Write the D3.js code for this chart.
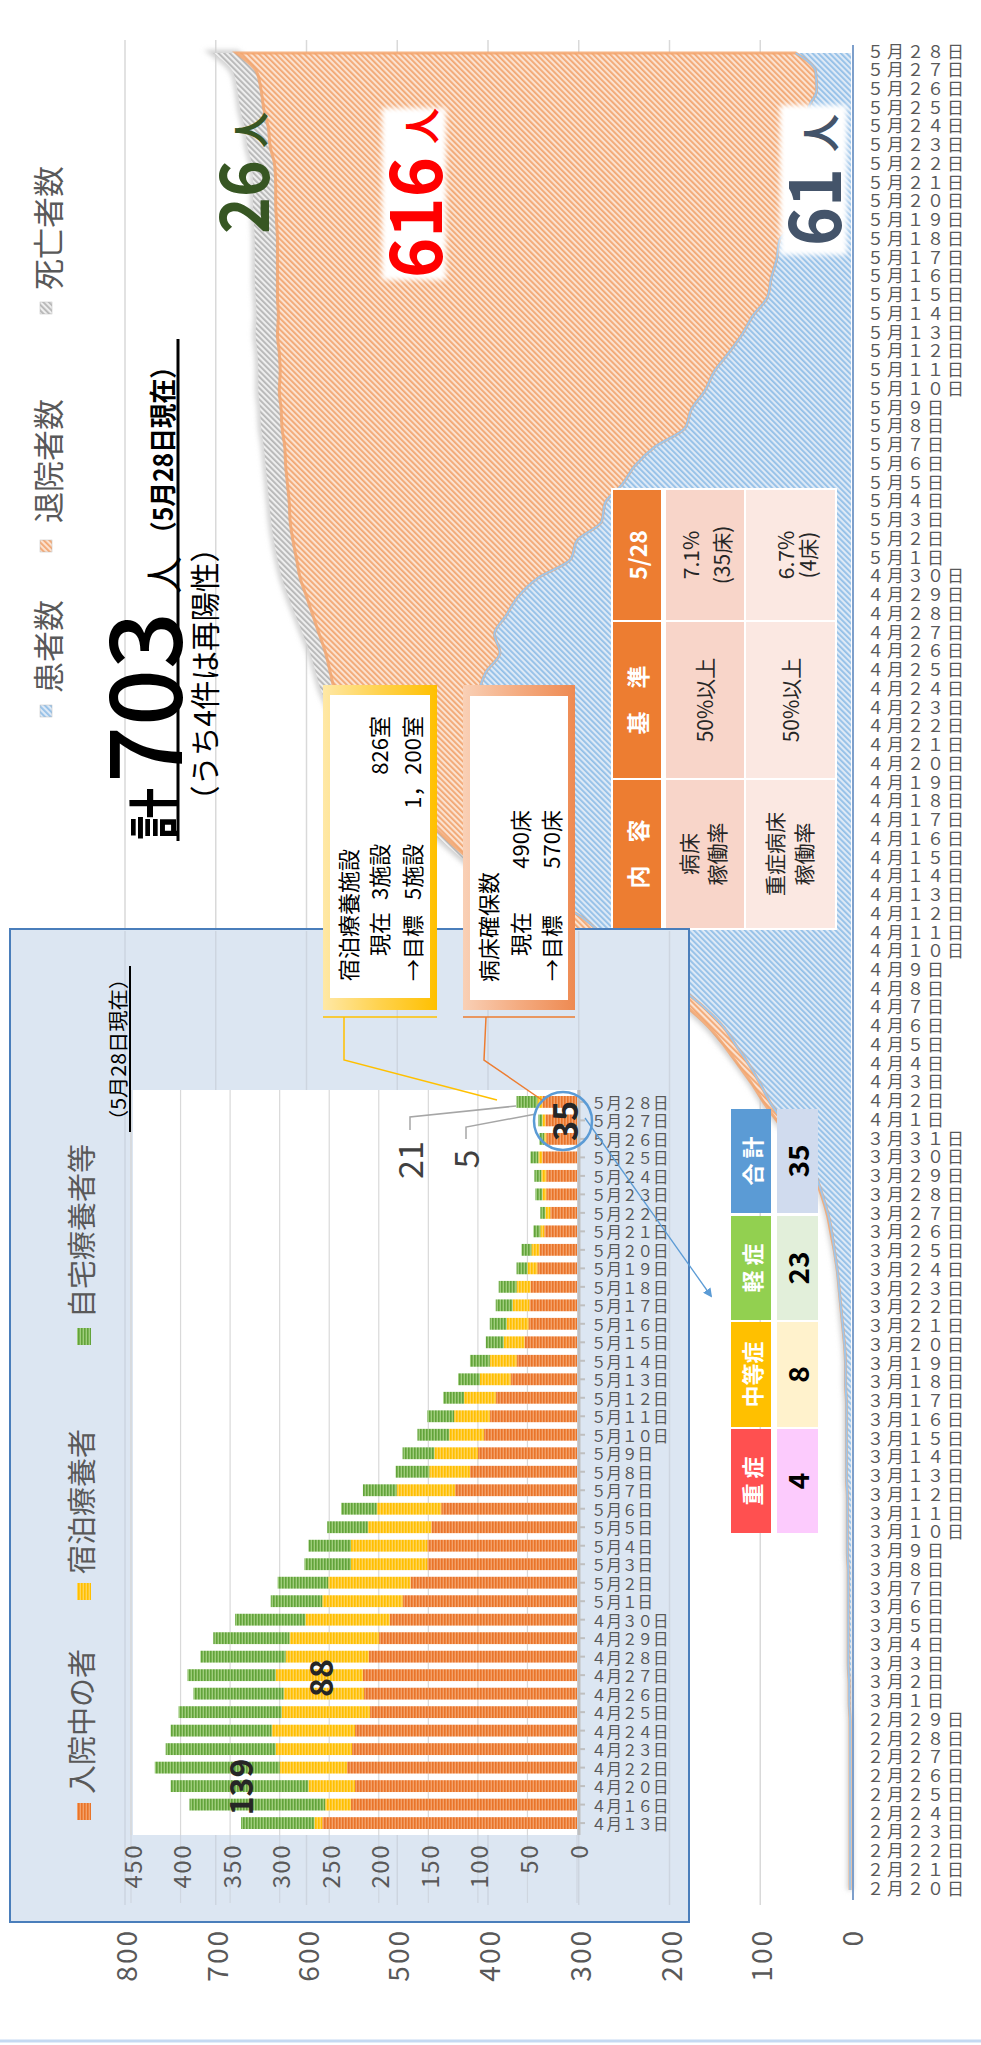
<!DOCTYPE html>
<html><head><meta charset="utf-8">
<script src="https://cdn.jsdelivr.net/npm/d3@7"></script>
<style>body{margin:0;background:#fff}svg{display:block}text{font-family:"Noto Sans CJK JP","Noto Sans",sans-serif}</style>
</head><body><svg id="c" width="981" height="2045"></svg>
<script>
// ---------------- DATA ----------------
const mainDates = ["2月20日","2月21日","2月22日","2月23日","2月24日","2月25日","2月26日","2月27日","2月28日","2月29日",
"3月1日","3月2日","3月3日","3月4日","3月5日","3月6日","3月7日","3月8日","3月9日","3月10日",
"3月11日","3月12日","3月13日","3月14日","3月15日","3月16日","3月17日","3月18日","3月19日","3月20日",
"3月21日","3月22日","3月23日","3月24日","3月25日","3月26日","3月27日","3月28日","3月29日","3月30日","3月31日",
"4月1日","4月2日","4月3日","4月4日","4月5日","4月6日","4月7日","4月8日","4月9日","4月10日",
"4月11日","4月12日","4月13日","4月14日","4月15日","4月16日","4月17日","4月18日","4月19日","4月20日",
"4月21日","4月22日","4月23日","4月24日","4月25日","4月26日","4月27日","4月28日","4月29日","4月30日",
"5月1日","5月2日","5月3日","5月4日","5月5日","5月6日","5月7日","5月8日","5月9日","5月10日",
"5月11日","5月12日","5月13日","5月14日","5月15日","5月16日","5月17日","5月18日","5月19日","5月20日",
"5月21日","5月22日","5月23日","5月24日","5月25日","5月26日","5月27日","5月28日"];
const patients = [1,1,1,1,1,1,1,1,1,1,
 2,2,3,3,3,3,3,3,4,4,
 4,4,5,5,5,5,5,6,6,7,
 9,11,13,15,18,21,25,31,38,47,60,
 75,89,100,112,126,140,160,185,213,245,
 274,300,339,360,378,391,398,404,407,410,
 418,426,415,410,402,387,393,380,367,345,
 309,302,275,271,252,238,216,183,176,161,
 151,135,120,108,92,88,82,79,61,56,
 44,37,42,43,47,38,39,61];
const discharged = [0,0,0,0,0,0,0,0,0,0,
 0,0,0,0,0,0,0,0,0,0,
 0,0,0,0,0,0,0,0,0,0,
 0,0,0,0,0,1,1,1,2,3,4,
 6,7,9,12,13,16,18,19,22,23,
 26,30,36,39,43,53,68,84,103,117,
 125,127,146,159,172,192,193,213,233,262,
 302,313,343,348,369,385,408,444,452,469,
 478,495,512,523,540,544,550,553,572,578,
 590,598,598,599,600,612,616,616];
const deaths = [0,0,0,0,0,0,0,0,0,0,
 0,0,0,0,0,0,0,0,0,0,
 0,0,0,0,0,0,0,0,0,0,
 0,0,0,0,0,0,0,0,0,0,0,
 1,1,1,1,2,2,2,3,3,4,
 4,4,5,6,7,8,9,10,10,11,
 12,13,14,15,16,17,18,19,20,20,
 21,21,21,22,22,22,23,23,23,23,
 24,24,24,24,24,25,25,25,25,25,
 25,25,25,26,26,26,26,26];
const mainTicks = [0,100,200,300,400,500,600,700,800];
const mainLegend = ["患者数","退院者数","死亡者数"];

const insetDates = ["4月13日","4月16日","4月20日","4月22日","4月23日","4月24日","4月25日","4月26日","4月27日","4月28日","4月29日","4月30日",
"5月1日","5月2日","5月3日","5月4日","5月5日","5月6日","5月7日","5月8日","5月9日","5月10日",
"5月11日","5月12日","5月13日","5月14日","5月15日","5月16日","5月17日","5月18日","5月19日","5月20日",
"5月21日","5月22日","5月23日","5月24日","5月25日","5月26日","5月27日","5月28日"];
const hospitalized = [257,228,224,232,227,224,209,215,216,210,200,189,
 176,168,151,151,147,137,123,108,100,94,
 88,82,67,61,53,49,48,47,40,38,
 33,27,31,31,35,31,32,35];
const hotel = [8,26,47,68,77,84,89,81,88,84,90,85,
 81,83,77,77,64,65,59,41,44,35,
 36,32,31,27,21,22,17,14,10,8,
 4,5,4,5,4,2,3,5];
const home = [74,137,139,126,111,102,104,91,89,86,77,71,
 52,51,47,43,41,36,34,34,32,32,
 27,21,22,20,18,17,17,18,11,10,
 7,5,7,7,8,5,4,21];
const insetTicks = [0,50,100,150,200,250,300,350,400,450];
const insetLegend = ["入院中の者","宿泊療養者","自宅療養者等"];

const sevLabels = ["合 計","軽 症","中等症","重 症"];
const sevValues = [35,23,8,4];
const bedCols = ["5/28","基　準","内　容"];
const bedRow1 = [["7.1%","(35床)"],["50%以上"],["病床","稼働率"]];
const bedRow2 = [["6.7%","(4床)"],["50%以上"],["重症病床","稼働率"]];

// ---------------- SETUP ----------------
const svg = d3.select('#c');
svg.append('rect').attr('width',981).attr('height',2045).attr('fill','#fff');
const defs = svg.append('defs');
function hatch(id,bg,fg,size,w,angle){
  const p=defs.append('pattern').attr('id',id).attr('patternUnits','userSpaceOnUse')
    .attr('width',size).attr('height',size).attr('patternTransform',`rotate(${angle})`);
  p.append('rect').attr('width',size).attr('height',size).attr('fill',bg);
  p.append('rect').attr('width',w).attr('height',size).attr('fill',fg);
}
hatch('hBlue','#dde9f6','#92bfe7',4,1.8,-45);
hatch('hOrange','#fbe2d0','#f2a672',4,1.8,-45);
hatch('hGray','#eeeeee','#b5b5b5',4,1.8,-45);
hatch('bOrange','#f3a16a','#e97429',3,1.6,0);
hatch('bYellow','#ffd45a','#ffbf00',3,1.6,0);
hatch('bGreen','#9fcd7c','#62a33a',3,1.6,0);
const blur=defs.append('filter').attr('id','blur').attr('x','-20%').attr('y','-20%').attr('width','140%').attr('height','140%');
blur.append('feGaussianBlur').attr('stdDeviation',2.5);
function grad(id,stops){
  const g=defs.append('linearGradient').attr('id',id).attr('x1',0).attr('x2',1).attr('y1',0).attr('y2',0);
  stops.forEach((c,i)=>g.append('stop').attr('offset',i/(stops.length-1)).attr('stop-color',c));
}
grad('gYel',['#ffe8a6','#ffd24d','#ffc000']);
grad('gOrg',['#f9d0b6','#f4ab80','#ee8a52']);
const mk=defs.append('marker').attr('id','arr').attr('viewBox','0 0 10 10').attr('refX',8).attr('refY',5)
  .attr('markerWidth',7).attr('markerHeight',7).attr('orient','auto-start-reverse');
mk.append('path').attr('d','M0,0L10,5L0,10z').attr('fill','#5b9bd5');

const fw = s => s.replace(/[0-9]/g, c => String.fromCharCode(c.charCodeAt(0)+0xFEE0));
function vt(g,x,y,s,o={}){
  const t=g.append('text').attr('transform',`translate(${x},${y}) rotate(-90)`)
    .attr('text-anchor',o.anchor||'start').attr('dominant-baseline','central')
    .attr('font-size',o.size||20).attr('fill',o.fill||'#000').attr('font-weight',o.weight||'normal').text(s);
  if(o.len) t.attr('textLength',o.len).attr('lengthAdjust','spacingAndGlyphs');
  if(o.ls) t.attr('letter-spacing',o.ls);
  return t;
}

// ---------------- MAIN CHART ----------------
const xV = d3.scaleLinear().domain([0,800]).range([851,125]);
const yD = d3.scalePoint().domain(mainDates).range([1890,53]);
const gMain = svg.append('g');
gMain.selectAll('line.grid').data(mainTicks.slice(1)).join('line')
  .attr('x1',d=>xV(d)).attr('x2',d=>xV(d)).attr('y1',40).attr('y2',1905)
  .attr('stroke','#d9d9d9').attr('stroke-width',1.5);

const rows = mainDates.map((d,i)=>({d,p:patients[i],r:discharged[i],k:deaths[i]}));
const series = d3.stack().keys(['p','r','k'])(rows);
const area = d3.area().y((d,i)=>yD(mainDates[i])).x0(d=>xV(d[0])).x1(d=>xV(d[1])).curve(d3.curveMonotoneY);
const fills = ['url(#hBlue)','url(#hOrange)','url(#hGray)'];
gMain.append('path').datum(series[2]).attr('d',area).attr('fill','none').attr('stroke','#cfcfcf').attr('stroke-width',6).attr('filter','url(#blur)');
series.forEach((s,i)=>{
  gMain.append('path').datum(s).attr('d',area).attr('fill',fills[i]);
});
gMain.append('path').datum(series[1]).attr('d',area)
  .attr('fill','none').attr('stroke','#f3a66f').attr('stroke-width',3).attr('opacity',0.85);
gMain.append('path').datum(series[0]).attr('d',d3.line().y((d,i)=>yD(mainDates[i])).x(d=>xV(d[1])).curve(d3.curveMonotoneY))
  .attr('fill','none').attr('stroke','#9fc6ea').attr('stroke-width',2);
gMain.append('line').attr('x1',xV(0)+2).attr('x2',xV(0)+2).attr('y1',45).attr('y2',1900).attr('stroke','#7d9fcb').attr('stroke-width',2);
gMain.selectAll('text.dl').data(mainDates).join('text')
  .attr('x',867).attr('y',d=>yD(d)-3).attr('dominant-baseline','central')
  .attr('font-size',17).attr('letter-spacing',3).attr('fill','#595959').text(d=>fw(d));
mainTicks.forEach(v=>vt(gMain,xV(v),1929,String(v),{anchor:'end',size:28,fill:'#595959',ls:2}));

// legend
const legG = svg.append('g');
const legCfg = [{sq:[705,717],ty:693,f:'url(#hBlue)'},{sq:[540,552],ty:523,f:'url(#hOrange)'},{sq:[302,314],ty:290,f:'url(#hGray)'}];
mainLegend.forEach((t,i)=>{
  const c=legCfg[i];
  legG.append('rect').attr('x',40).attr('y',c.sq[0]).attr('width',12).attr('height',12).attr('fill',c.f).attr('stroke','#bbb').attr('stroke-width',0.5);
  vt(legG,46,c.ty,t,{size:31,fill:'#595959'});
});

// title
vt(svg,151,840,'計',{size:52,weight:'bold'});
vt(svg,138,783,'703',{size:100,len:171,weight:'500'});
vt(svg,161,594,'人',{size:38});
vt(svg,161,546,'（5月28日現在）',{size:27,weight:'bold',len:192});
svg.append('line').attr('x1',178).attr('x2',178).attr('y1',339).attr('y2',841).attr('stroke','#000').attr('stroke-width',3);
vt(svg,203,815,'（うち4件は再陽性）',{size:30,len:282});

// annotations
vt(svg,239,234,'26',{size:68,fill:'#375623',weight:'bold',len:74});
vt(svg,249,148,'人',{size:36,fill:'#375623',weight:'bold'});
svg.append('rect').attr('x',382).attr('y',108).attr('width',64).attr('height',172).attr('fill','#fff').attr('filter','url(#blur)');
vt(svg,410,278,'616',{size:72,fill:'#ff0000',weight:'bold',len:121});
vt(svg,420,144,'人',{size:36,fill:'#ff0000',weight:'bold'});
svg.append('rect').attr('x',780).attr('y',105).attr('width',67).attr('height',150).attr('fill','#fff').attr('filter','url(#blur)');
vt(svg,809,246,'61',{size:72,fill:'#44546a',weight:'bold',len:78});
vt(svg,818,152,'人',{size:38,fill:'#44546a',weight:'bold'});

// bed table
const tb = svg.append('g');
tb.append('rect').attr('x',611).attr('y',488).attr('width',226).attr('height',442).attr('fill','#fff');
const ySeg=[[490,620],[622,778],[780,928]];
const xSeg=[[613,661],[666,744],[746,835]];
const cellFill=['#ed7d31','#f8d5c9','#fbe8e2'];
ySeg.forEach((ys,j)=>xSeg.forEach((xs,i)=>{
  tb.append('rect').attr('x',xs[0]).attr('y',ys[0]).attr('width',xs[1]-xs[0]).attr('height',ys[1]-ys[0]).attr('fill',cellFill[i]);
}));
bedCols.forEach((t,j)=>vt(tb,637,(ySeg[j][0]+ySeg[j][1])/2,t,{anchor:'middle',size:23,fill:'#fff',weight:'bold'}));
const r1x=[[690,721],[704],[688,716]], r2x=[[785,807],[790],[774,803]];
bedRow1.forEach((lines,j)=>lines.forEach((t,k)=>vt(tb,r1x[j][k],(ySeg[j][0]+ySeg[j][1])/2,t,{anchor:'middle',size:21,fill:'#262626'})));
bedRow2.forEach((lines,j)=>lines.forEach((t,k)=>vt(tb,r2x[j][k],(ySeg[j][0]+ySeg[j][1])/2,t,{anchor:'middle',size:21,fill:'#262626'})));

// ---------------- INSET PANEL ----------------
const gI = svg.append('g');
gI.append('rect').attr('x',10).attr('y',929).attr('width',679).attr('height',993).attr('fill','#dce6f2').attr('stroke','#4a7ebb').attr('stroke-width',2);
gI.selectAll('line.mg').data(mainTicks.filter(v=>v>=200)).join('line')
  .attr('x1',d=>xV(d)).attr('x2',d=>xV(d)).attr('y1',931).attr('y2',1905).attr('stroke','#cdd5e0').attr('stroke-width',1.5);
const xI = d3.scaleLinear().domain([0,450]).range([577,131]);
const yI = d3.scaleBand().domain(insetDates.slice().reverse()).range([1096,1829]).paddingInner(0.36);
gI.selectAll('line.ig').data(insetTicks).join('line')
  .attr('x1',d=>xI(d)).attr('x2',d=>xI(d)).attr('y1',1090).attr('y2',1903).attr('stroke','#cfd6e0').attr('stroke-width',1.2);
gI.append('rect').attr('x',133).attr('y',1090).attr('width',444).attr('height',745).attr('fill','#fff');
gI.selectAll('line.ig2').data(insetTicks.slice(1)).join('line')
  .attr('x1',d=>xI(d)).attr('x2',d=>xI(d)).attr('y1',1090).attr('y2',1835).attr('stroke','#d9d9d9').attr('stroke-width',1.2);
const irows = insetDates.map((d,i)=>({d,h:hospitalized[i],t:hotel[i],m:home[i]}));
const iser = d3.stack().keys(['h','t','m'])(irows);
const bfill=['url(#bOrange)','url(#bYellow)','url(#bGreen)'];
iser.forEach((s,k)=>{
  gI.selectAll(null).data(s).join('rect')
    .attr('x',d=>xI(d[1])).attr('width',d=>xI(d[0])-xI(d[1]))
    .attr('y',(d,i)=>yI(insetDates[i])).attr('height',yI.bandwidth()).attr('fill',bfill[k]);
});
gI.append('line').attr('x1',579).attr('x2',579).attr('y1',1090).attr('y2',1835).attr('stroke','#bfbfbf').attr('stroke-width',3);
gI.selectAll('line.tk').data(insetDates).join('line')
  .attr('x1',580).attr('x2',585).attr('y1',d=>yI(d)+yI.bandwidth()/2).attr('y2',d=>yI(d)+yI.bandwidth()/2)
  .attr('stroke','#bfbfbf').attr('stroke-width',2);
gI.selectAll('text.il').data(insetDates).join('text')
  .attr('x',591).attr('y',d=>yI(d)+yI.bandwidth()/2).attr('dominant-baseline','central')
  .attr('font-size',15.5).attr('fill','#595959').text(d=>fw(d));
insetTicks.forEach(v=>vt(gI,xI(v),1844,String(v),{anchor:'end',size:24,fill:'#595959',ls:1.5}));
const ilCfg=[{sq:[1803,1820],ty:1794,f:'url(#bOrange)'},{sq:[1583,1600],ty:1574,f:'url(#bYellow)'},{sq:[1328,1345],ty:1318,f:'url(#bGreen)'}];
insetLegend.forEach((t,i)=>{
  const c=ilCfg[i];
  gI.append('rect').attr('x',77).attr('y',c.sq[0]).attr('width',14).attr('height',c.sq[1]-c.sq[0]).attr('fill',c.f);
  vt(gI,80,c.ty,t,{size:29,fill:'#595959'});
});
vt(gI,117,1131,'（5月28日現在）',{size:20,len:163});
gI.append('line').attr('x1',130).attr('x2',130).attr('y1',966).attr('y2',1132).attr('stroke','#000').attr('stroke-width',2);
vt(gI,239,1787,'139',{anchor:'middle',size:32,weight:'bold',fill:'#262626'});
vt(gI,319,1678,'88',{anchor:'middle',size:32,weight:'bold',fill:'#262626'});
gI.append('polyline').attr('points','516,1106 410,1117 410,1130').attr('fill','none').attr('stroke','#a6a6a6').attr('stroke-width',1.5);
gI.append('polyline').attr('points','536,1114 466,1127 466,1139').attr('fill','none').attr('stroke','#a6a6a6').attr('stroke-width',1.5);
vt(gI,408,1160,'21',{anchor:'middle',size:34,fill:'#404040'});
vt(gI,464,1159,'5',{anchor:'middle',size:34,fill:'#404040'});
vt(gI,563,1121,'35',{anchor:'middle',size:34,weight:'bold',fill:'#262626'});
gI.append('circle').attr('cx',563).attr('cy',1121).attr('r',29).attr('fill','none').attr('stroke','#5b9bd5').attr('stroke-width',2.5);

// ---------------- CALLOUT BOXES ----------------
const bx = svg.append('g');
function box(x0,x1,y0,y1,g,inner){
  bx.append('rect').attr('x',x0).attr('y',y0).attr('width',x1-x0).attr('height',y1-y0).attr('fill',`url(#${g})`);
  bx.append('rect').attr('x',inner[0]).attr('y',inner[2]).attr('width',inner[1]-inner[0]).attr('height',inner[3]-inner[2]).attr('fill','#fff');
}
box(323,437,685,1010,'gYel',[330,430,695,998]);
box(463,575,685,1010,'gOrg',[470,568,696,1000]);
vt(bx,347,981,'宿泊療養施設',{size:22});
vt(bx,378,956,'現在',{size:22}); vt(bx,378,900,'3施設',{size:22}); vt(bx,378,716,'826室',{size:22,anchor:'end'});
vt(bx,411,981,'→目標',{size:22}); vt(bx,411,900,'5施設',{size:22}); vt(bx,411,716,'1，200室',{size:22,anchor:'end'});
vt(bx,487,982,'病床確保数',{size:22});
vt(bx,519,956,'現在',{size:22}); vt(bx,519,810,'490床',{size:22,anchor:'end'});
vt(bx,550,981,'→目標',{size:22}); vt(bx,550,810,'570床',{size:22,anchor:'end'});
bx.append('line').attr('x1',323).attr('x2',437).attr('y1',1017).attr('y2',1017).attr('stroke','#ffc000').attr('stroke-width',1.5);
bx.append('polyline').attr('points','344,1017 344,1060 497,1100').attr('fill','none').attr('stroke','#ffc000').attr('stroke-width',1.5);
bx.append('line').attr('x1',463).attr('x2',575).attr('y1',1017).attr('y2',1017).attr('stroke','#ed7d31').attr('stroke-width',1.5);
bx.append('polyline').attr('points','486,1017 484,1060 542,1100').attr('fill','none').attr('stroke','#ed7d31').attr('stroke-width',1.5);

// ---------------- SEVERITY TABLE ----------------
const st = svg.append('g');
const sevY=[[1109,1213],[1216,1320],[1322,1427],[1429,1533]];
const sevHead=['#5b9bd5','#92d050','#ffc000','#ff5050'];
const sevBg=['#d0dbee','#e2efda','#fff2cc','#fccbfd'];
sevLabels.forEach((t,i)=>{
  st.append('rect').attr('x',731).attr('y',sevY[i][0]).attr('width',40).attr('height',sevY[i][1]-sevY[i][0]).attr('fill',sevHead[i]);
  st.append('rect').attr('x',777).attr('y',sevY[i][0]).attr('width',41).attr('height',sevY[i][1]-sevY[i][0]).attr('fill',sevBg[i]);
  vt(st,751,(sevY[i][0]+sevY[i][1])/2,t,{anchor:'middle',size:22,fill:'#fff',weight:'bold'});
  vt(st,797,(sevY[i][0]+sevY[i][1])/2,String(sevValues[i]),{anchor:'middle',size:28,fill:'#000',weight:'bold'});
});
svg.append('line').attr('x1',585).attr('y1',1118).attr('x2',711).attr('y2',1296).attr('stroke','#5b9bd5').attr('stroke-width',1.3).attr('marker-end','url(#arr)');

svg.append('line').attr('x1',0).attr('x2',981).attr('y1',2041).attr('y2',2041).attr('stroke','#c5d9f1').attr('stroke-width',3);
</script></body></html>
